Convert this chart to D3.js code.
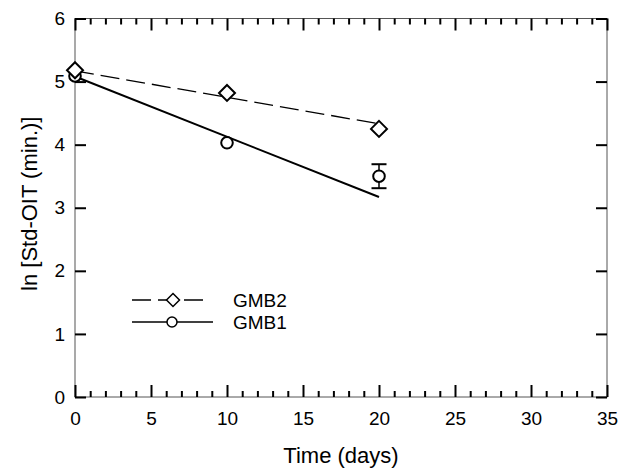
<!DOCTYPE html>
<html>
<head>
<meta charset="utf-8">
<script src="https://cdn.jsdelivr.net/npm/d3@7"></script>
<style>
  body { margin: 0; background: #fff; }
  text { font-family: "Liberation Sans", Arial, sans-serif; }
</style>
</head>
<body>
<div id="mychart"></div>
<script>
// data
var days = [0, 10, 20];
var gmb2 = [5.18, 4.82, 4.25];
var gmb1 = [5.09, 4.03, 3.50];
var gmb1Err = [0, 0, 0.19];
// fitted lines (start and end values)
var fitDays = [0, 20];
var gmb2Fit = [5.17, 4.33];
var gmb1Fit = [5.08, 3.17];
var xTicks = [0, 5, 10, 15, 20, 25, 30, 35];
var yTicks = [0, 1, 2, 3, 4, 5, 6];

var margin = {left: 75, right: 11, top: 18.5, bottom: 73};
var width = 618 - margin.left - margin.right,
    height = 470 - margin.top - margin.bottom;

var svg = d3.select("#mychart")
  .append("svg")
    .attr("width", 618)
    .attr("height", 470)
  .append("g")
    .attr("transform", "translate(" + margin.left + "," + margin.top + ")");

var x = d3.scaleLinear().domain([0, 35]).range([0, width]);
var y = d3.scaleLinear().domain([0, 6]).range([height, 0]);

// frame
svg.append("rect")
  .attr("width", width).attr("height", height)
  .attr("fill", "none").attr("stroke", "#555").attr("stroke-width", 1);

var minorX = d3.range(0, 36, 1).filter(function(d) { return d % 5 != 0; });

function tickStyle(g) {
  g.select(".domain").remove();
  g.selectAll(".tick line").attr("stroke", "#000").attr("stroke-width", 2);
  g.selectAll(".tick text").attr("font-size", 19).attr("fill", "#000")
    .attr("font-family", "Liberation Sans, Arial, sans-serif");
}

// bottom axis (ticks inward)
svg.append("g")
  .attr("transform", "translate(0," + height + ")")
  .call(d3.axisBottom(x).tickValues(xTicks).tickSize(-12).tickPadding(15))
  .call(tickStyle);
svg.append("g")
  .attr("transform", "translate(0," + height + ")")
  .call(d3.axisBottom(x).tickValues(minorX).tickSize(-6).tickFormat(""))
  .call(tickStyle);
// top axis
svg.append("g")
  .call(d3.axisTop(x).tickValues(xTicks).tickSize(-12).tickFormat(""))
  .call(tickStyle);
svg.append("g")
  .call(d3.axisTop(x).tickValues(minorX).tickSize(-6).tickFormat(""))
  .call(tickStyle);
// left axis
svg.append("g")
  .call(d3.axisLeft(y).tickValues(yTicks).tickSize(-11).tickPadding(10).tickFormat(d3.format("d")))
  .call(tickStyle);
// right axis
svg.append("g")
  .attr("transform", "translate(" + width + ",0)")
  .call(d3.axisRight(y).tickValues(yTicks).tickSize(-11).tickFormat(""))
  .call(tickStyle);

// axis titles
svg.append("text")
  .attr("x", width / 2).attr("y", height + 66)
  .attr("text-anchor", "middle").attr("font-size", 22)
  .text("Time (days)");
svg.append("text")
  .attr("transform", "translate(-38," + (height / 2 - 4) + ") rotate(-90)")
  .attr("text-anchor", "middle").attr("font-size", 22)
  .text("ln [Std-OIT (min.)]");

var line = d3.line()
  .x(function(d) { return x(d[0]); })
  .y(function(d) { return y(d[1]); });

// fitted lines
svg.append("path")
  .attr("d", line(d3.zip(fitDays, gmb2Fit)))
  .attr("fill", "none").attr("stroke", "#000").attr("stroke-width", 1.3)
  .attr("stroke-dasharray", "19,7");
svg.append("path")
  .attr("d", line(d3.zip(fitDays, gmb1Fit)))
  .attr("fill", "none").attr("stroke", "#000").attr("stroke-width", 2);

// error bars
var eb = svg.selectAll(".err")
  .data(d3.zip(days, gmb1, gmb1Err).filter(function(d) { return d[2] > 0; }))
  .enter().append("g").attr("class", "err");
eb.append("line")
  .attr("x1", function(d) { return x(d[0]); }).attr("x2", function(d) { return x(d[0]); })
  .attr("y1", function(d) { return y(d[1] - d[2]); }).attr("y2", function(d) { return y(d[1] + d[2]); })
  .attr("stroke", "#000").attr("stroke-width", 1.5);
[-1, 1].forEach(function(s) {
  eb.append("line")
    .attr("x1", function(d) { return x(d[0]) - 7.5; }).attr("x2", function(d) { return x(d[0]) + 7.5; })
    .attr("y1", function(d) { return y(d[1] + s * d[2]); }).attr("y2", function(d) { return y(d[1] + s * d[2]); })
    .attr("stroke", "#000").attr("stroke-width", 2);
});

var diamond = "M0,-8L8,0L0,8L-8,0Z";
var smallDiamond = "M0,-6.5L6.5,0L0,6.5L-6.5,0Z";

// markers
svg.selectAll(".c")
  .data(d3.zip(days, gmb1))
  .enter().append("circle")
  .attr("cx", function(d) { return x(d[0]); })
  .attr("cy", function(d) { return y(d[1]); })
  .attr("r", 5.8)
  .attr("fill", "#fff").attr("stroke", "#000").attr("stroke-width", 2);
svg.selectAll(".dm")
  .data(d3.zip(days, gmb2))
  .enter().append("path")
  .attr("d", diamond)
  .attr("transform", function(d) { return "translate(" + x(d[0]) + "," + y(d[1]) + ")"; })
  .attr("fill", "#fff").attr("stroke", "#000").attr("stroke-width", 2);

// legend
var lg = svg.append("g").attr("transform", "translate(" + (132 - margin.left) + "," + (300 - margin.top) + ")");
lg.append("line").attr("x1", 0).attr("x2", 75).attr("y1", 0).attr("y2", 0)
  .attr("stroke", "#000").attr("stroke-width", 1.3).attr("stroke-dasharray", "19,7");
lg.append("path").attr("d", smallDiamond).attr("transform", "translate(41,0)")
  .attr("fill", "#fff").attr("stroke", "#000").attr("stroke-width", 1.5);
lg.append("text").attr("x", 101).attr("y", 6.5).attr("font-size", 19).text("GMB2");
lg.append("line").attr("x1", 0).attr("x2", 81).attr("y1", 22).attr("y2", 22)
  .attr("stroke", "#000").attr("stroke-width", 1.3);
lg.append("circle").attr("cx", 40).attr("cy", 22).attr("r", 5)
  .attr("fill", "#fff").attr("stroke", "#000").attr("stroke-width", 1.5);
lg.append("text").attr("x", 101).attr("y", 29).attr("font-size", 19).text("GMB1");
</script>
</body>
</html>
